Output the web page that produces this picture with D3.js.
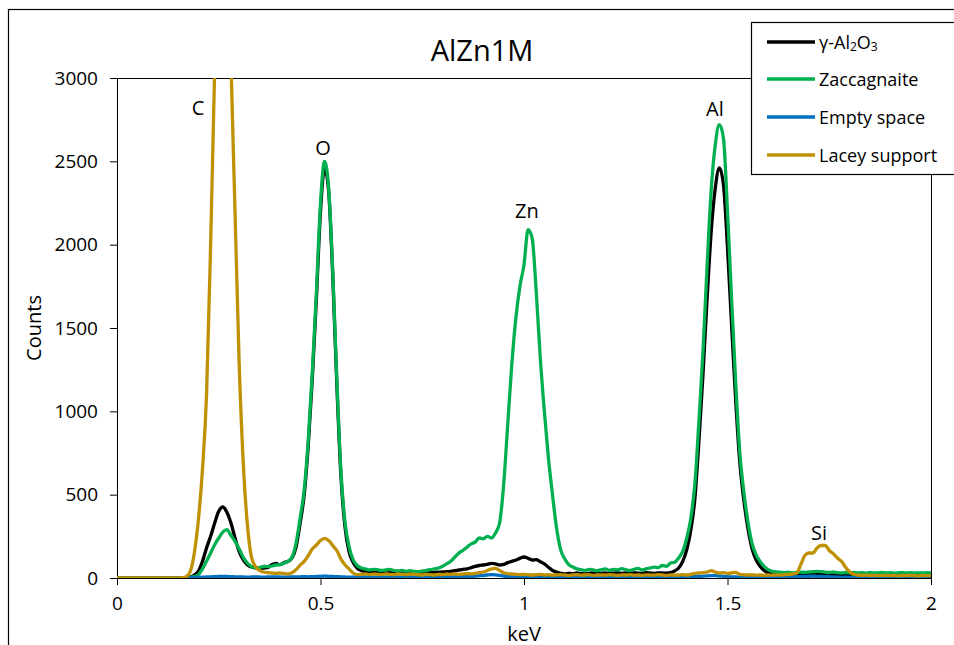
<!DOCTYPE html>
<html>
<head>
<meta charset="utf-8">
<script src="https://cdn.jsdelivr.net/npm/d3@7/dist/d3.min.js"></script>
<style>
  body { margin: 0; background: #fff; }
  svg { display: block; font-family: 'Open Sans', sans-serif; }
</style>
</head>
<body>
<svg id="chart" width="954" height="645"></svg>
<script>
// counts per 0.01 keV channel, 0.00 .. 2.00 keV
const alumina = [
  0,0,0,0,0,0,0,0,0,0,
  0,0,0,0,0,0,0,2,6,18,
  40,100,180,250,330,400,426,395,330,240,
  160,110,80,66,62,58,60,62,80,88,
  80,92,100,120,185,330,500,800,1200,1680,
  2200,2460,2320,1820,1170,620,310,160,95,60,
  45,38,35,36,32,34,30,32,30,28,
  30,28,30,28,30,32,30,32,34,35,
  36,38,40,44,48,52,55,62,70,75,
  78,82,88,85,78,82,92,100,108,118,
  126,118,108,110,98,85,65,45,35,28,
  25,28,26,30,27,25,28,30,26,28,
  30,27,29,32,28,30,27,31,29,28,
  32,30,28,31,30,29,32,42,60,100,
  170,290,480,830,1230,1680,2080,2340,2460,2360,
  1980,1520,1070,700,470,300,180,110,70,45,
  30,25,24,22,23,21,22,24,25,26,
  24,26,25,24,22,23,21,22,20,21,
  20,22,21,19,20,21,19,20,18,20,
  19,20,18,19,20,18,19,18,20,19,
  18
]

const zaccagnaite = [
  0,0,0,0,0,0,0,0,0,0,
  0,0,0,0,0,0,0,1,3,8,
  20,55,100,150,200,240,275,290,255,220,
  175,125,90,70,60,62,70,68,72,78,
  80,88,100,125,210,360,530,830,1240,1720,
  2250,2500,2340,1850,1200,650,340,190,110,75,
  60,55,48,52,50,45,48,52,45,42,
  45,40,44,40,38,42,45,50,55,60,
  70,85,100,125,150,165,185,205,215,240,
  235,250,240,270,330,560,920,1280,1560,1750,
  1880,2090,2040,1720,1320,1000,720,500,300,170,
  115,80,66,55,50,45,52,48,44,50,
  55,46,52,48,56,50,45,52,58,48,
  55,60,65,62,75,70,90,95,120,160,
  240,360,570,950,1370,1880,2330,2600,2720,2640,
  2200,1680,1180,760,520,340,210,140,100,70,
  50,40,36,34,32,35,30,32,35,34,
  36,38,40,38,35,33,36,32,30,33,
  31,34,30,32,29,33,30,31,34,30,
  32,29,31,33,30,32,29,31,30,32,
  30
]

const emptySpace = [
  0,0,0,0,0,0,0,0,0,0,
  0,0,0,0,0,0,0,0,1,2,
  4,5,6,7,8,9,10,9,8,7,
  6,6,5,6,7,6,5,6,7,6,
  6,5,6,7,6,7,8,7,8,9,
  10,11,10,9,8,7,6,5,5,6,
  5,6,5,4,5,6,5,4,5,5,
  4,5,6,5,4,5,6,5,5,6,
  5,6,7,6,7,8,8,10,11,13,
  15,18,20,19,16,12,9,7,6,5,
  6,5,4,5,6,5,4,5,4,5,
  4,5,4,3,5,4,5,4,3,4,
  5,4,3,4,5,4,3,4,5,4,
  4,3,4,5,4,3,4,5,5,6,
  6,7,8,9,11,13,14,14,12,10,
  8,7,6,5,4,5,4,3,4,5,
  4,3,4,3,4,5,6,8,9,10,
  10,11,10,9,8,7,6,5,4,5,
  4,3,4,3,4,3,2,3,4,3,
  3,2,3,4,3,2,3,3,2,3,
  3
]

const laceySupport = [
  0,0,0,0,0,0,0,0,0,0,
  0,0,0,0,0,0,2,8,40,150,
  350,650,1100,2000,3050,4200,4600,4300,3100,2200,
  1300,700,330,130,70,45,36,32,30,28,
  30,27,25,32,50,78,100,135,175,198,
  225,238,225,195,165,115,80,55,30,20,
  22,25,20,24,22,20,25,22,20,24,
  22,20,24,22,20,18,22,20,18,22,
  20,24,22,25,22,24,26,25,28,32,
  36,45,55,58,45,32,26,24,22,20,
  22,20,18,20,22,18,20,17,19,20,
  18,16,19,20,17,18,20,16,18,19,
  17,20,18,16,19,18,20,17,18,16,
  19,18,17,20,18,16,19,17,18,20,
  18,22,28,30,32,36,44,36,30,32,
  28,30,34,22,20,18,19,17,18,16,
  18,17,19,18,20,22,24,30,80,135,
  150,150,180,195,196,165,145,120,100,65,
  38,22,18,16,17,15,16,14,15,16,
  14,15,13,15,14,16,14,13,15,14,
  14
]

const keVStep = 0.01

const seriesData = [alumina, zaccagnaite, emptySpace, laceySupport]
const seriesColors = ['#000000', '#00B050', '#0070C0', '#BF9000']

const xTicks = [0, 0.5, 1, 1.5, 2]
const yTicks = [0, 500, 1000, 1500, 2000, 2500, 3000]

const peakLabels = ['C', 'O', 'Zn', 'Al', 'Si']
const peakKeV = [0.199, 0.506, 1.007, 1.469, 1.725]
const peakCounts = [2826, 2586, 2208, 2820, 276]

const plot = { left: 117, right: 931, top: 78, bottom: 578 }

const svg = d3.select('#chart')

// outer chart frame (runs off the right / bottom edge)
svg.append('rect')
  .attr('x', 8.5).attr('y', 9.5)
  .attr('width', 1000).attr('height', 1000)
  .attr('fill', '#fff')
  .attr('stroke', '#000')
  .attr('stroke-width', 1.2)

const x = d3.scaleLinear().domain([0, 2]).range([plot.left, plot.right])
const y = d3.scaleLinear().domain([0, 3000]).range([plot.bottom, plot.top])

svg.append('defs').append('clipPath').attr('id', 'plotClip')
  .append('rect')
  .attr('x', plot.left).attr('y', plot.top)
  .attr('width', plot.right - plot.left).attr('height', plot.bottom - plot.top)

// top and right borders of plot area
svg.append('path')
  .attr('d', `M${plot.left},${plot.top + 0.5}H${plot.right + 0.5}V${plot.bottom}`)
  .attr('fill', 'none')
  .attr('stroke', '#000')
  .attr('stroke-width', 1)

const yAxis = svg.append('g')
  .attr('transform', `translate(${plot.left},0)`)
  .call(d3.axisLeft(y).tickValues(yTicks).tickSize(7).tickPadding(12).tickFormat(d3.format('d')))

const xAxis = svg.append('g')
  .attr('transform', `translate(0,${plot.bottom})`)
  .call(d3.axisBottom(x).tickValues(xTicks).tickSize(7).tickPadding(12).tickFormat(d => String(d)))

;[yAxis, xAxis].forEach(a => {
  a.select('.domain').attr('stroke', '#000')
  a.selectAll('.tick line').attr('stroke', '#000')
  a.selectAll('text')
    .attr('font-size', 19)
    .attr('font-family', "'Open Sans', sans-serif")
    .attr('fill', '#000')
})

const line = d3.line()
  .x((d, i) => x(i * keVStep))
  .y(d => y(d))
  .curve(d3.curveMonotoneX)

svg.append('g')
  .attr('clip-path', 'url(#plotClip)')
  .selectAll('path')
  .data(seriesData)
  .join('path')
  .attr('d', d => line(d))
  .attr('fill', 'none')
  .attr('stroke', (d, i) => seriesColors[i])
  .attr('stroke-width', 3.3)
  .attr('stroke-linejoin', 'round')
  .attr('stroke-linecap', 'round')

// element labels
svg.append('g')
  .selectAll('text')
  .data(peakLabels)
  .join('text')
  .attr('x', (d, i) => x(peakKeV[i]))
  .attr('y', (d, i) => y(peakCounts[i]))
  .attr('text-anchor', 'middle')
  .attr('dominant-baseline', 'central')
  .attr('font-size', 20)
  .text(d => d)

// titles
svg.append('text')
  .attr('x', 482).attr('y', 49)
  .attr('text-anchor', 'middle')
  .attr('dominant-baseline', 'central')
  .attr('font-size', 29)
  .text('AlZn1M')

svg.append('text')
  .attr('transform', 'translate(33,328) rotate(-90)')
  .attr('text-anchor', 'middle')
  .attr('dominant-baseline', 'central')
  .attr('font-size', 20)
  .text('Counts')

svg.append('text')
  .attr('x', 524).attr('y', 633)
  .attr('text-anchor', 'middle')
  .attr('dominant-baseline', 'central')
  .attr('font-size', 20)
  .text('keV')

// legend
const legend = svg.append('g')

legend.append('rect')
  .attr('x', 751.5).attr('y', 22.5)
  .attr('width', 260).attr('height', 152)
  .attr('fill', '#fff')
  .attr('stroke', '#000')
  .attr('stroke-width', 1.2)

const legendY = [42, 79, 117, 155]

const items = legend.selectAll('g.item')
  .data(seriesColors)
  .join('g')
  .attr('class', 'item')
  .attr('transform', (d, i) => `translate(0,${legendY[i]})`)

items.append('line')
  .attr('x1', 767).attr('x2', 815)
  .attr('stroke', d => d)
  .attr('stroke-width', 3.3)

const legendText = items.append('text')
  .attr('x', 819)
  .attr('dominant-baseline', 'central')
  .attr('font-size', 18)

legendText.each(function(d, i) {
  const t = d3.select(this)
  if (i === 0) {
    t.append('tspan').text('γ-Al')
    t.append('tspan').attr('font-size', 12).attr('dy', 4).text('2')
    t.append('tspan').attr('dy', -4).text('O')
    t.append('tspan').attr('font-size', 12).attr('dy', 4).text('3')
  } else {
    t.text(['', 'Zaccagnaite', 'Empty space', 'Lacey support'][i])
  }
})
</script>
</body>
</html>
